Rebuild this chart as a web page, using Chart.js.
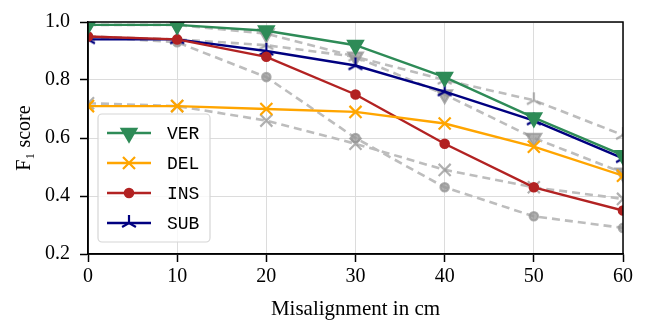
<!DOCTYPE html>
<html>
<head>
<meta charset="utf-8">
<script src="https://cdn.jsdelivr.net/npm/chart.js@4.4.1/dist/chart.umd.min.js"></script>
<style>
  html, body { margin: 0; padding: 0; background: #fff; }
  #wrap { width: 650px; height: 322px; position: relative; }
</style>
</head>
<body>
<div id="wrap"><canvas id="f1Chart"></canvas></div>
<script>
// Misalignment steps (cm) and F1 scores per error type
const misalignment = [0, 10, 20, 30, 40, 50, 60];
const yTicks = [0.2, 0.4, 0.6, 0.8, 1.0];

const verScores = [0.99, 0.99, 0.97, 0.92, 0.81, 0.67, 0.54];
const delScores = [0.71, 0.71, 0.70, 0.69, 0.65, 0.57, 0.47];
const insScores = [0.95, 0.94, 0.88, 0.75, 0.58, 0.43, 0.35];
const subScores = [0.94, 0.94, 0.90, 0.85, 0.76, 0.66, 0.53];

// grey dashed reference runs
const verRef = [0.99, 0.99, 0.96, 0.88, 0.75, 0.60, 0.48];
const delRef = [0.72, 0.71, 0.66, 0.58, 0.49, 0.43, 0.39];
const insRef = [0.95, 0.93, 0.81, 0.60, 0.43, 0.33, 0.29];
const subRef = [0.95, 0.94, 0.92, 0.88, 0.80, 0.73, 0.61];

const GREY_LINE = '#bdbdbd';
const GREY_MARK = 'rgba(150,150,150,0.75)';

// tri_up marker (matplotlib '2') as a small canvas
function triMarker(color, size) {
    const c = document.createElement('canvas');
    c.width = size * 2 + 4;
    c.height = size * 2 + 4;
    const g = c.getContext('2d');
    const cx = c.width / 2, cy = c.height / 2;
    g.strokeStyle = color;
    g.lineWidth = 2.2;
    g.beginPath();
    [90, 210, 330].forEach(a => {
        const r = a * Math.PI / 180;
        g.moveTo(cx, cy);
        g.lineTo(cx + size * Math.cos(r), cy - size * Math.sin(r));
    });
    g.stroke();
    return c;
}

const toPts = arr => arr.map((v, i) => ({ x: misalignment[i], y: v }));

function series(label, data, color, style, radius, opts = {}) {
    return Object.assign({
        label: label,
        data: toPts(data),
        borderColor: color,
        backgroundColor: color,
        pointBackgroundColor: color,
        pointBorderColor: color,
        pointStyle: style,
        pointRadius: radius,
        pointHoverRadius: radius,
        pointBorderWidth: 2.2,
        borderWidth: 2.4,
        tension: 0,
        fill: false
    }, opts);
}

const greyOpts = { borderColor: GREY_LINE, borderDash: [8, 5], borderWidth: 2.6 };

const datasets = [
    series('VER', verScores, '#2e8b57', 'triangle', 8.5, { pointRotation: 180 }),
    series('DEL', delScores, '#ffa500', 'crossRot', 8.5),
    series('INS', insScores, '#b22222', 'circle', 4.2),
    series('SUB', subScores, '#000080', triMarker('#000080', 8), 8),
    series('_ver', verRef, GREY_MARK, 'triangle', 8.5, Object.assign({ pointRotation: 180 }, greyOpts)),
    series('_del', delRef, GREY_MARK, 'crossRot', 8.5, greyOpts),
    series('_ins', insRef, GREY_MARK, 'circle', 4.2, greyOpts),
    series('_sub', subRef, GREY_MARK, triMarker(GREY_MARK, 8), 8, greyOpts)
];

// legend box inside the plot, plus the top/right frame
const framePlugin = {
    id: 'frameAndLegend',
    afterDatasetsDraw(chart) {
        const { ctx, chartArea: a } = chart;
        ctx.save();
        ctx.strokeStyle = '#000';
        ctx.lineWidth = 1.5;
        ctx.strokeRect(a.left, a.top, a.right - a.left, a.bottom - a.top);

        // legend frame
        const bx = 98, by = 114, bw = 112, bh = 128, r = 4;
        ctx.beginPath();
        ctx.moveTo(bx + r, by);
        ctx.arcTo(bx + bw, by, bx + bw, by + bh, r);
        ctx.arcTo(bx + bw, by + bh, bx, by + bh, r);
        ctx.arcTo(bx, by + bh, bx, by, r);
        ctx.arcTo(bx, by, bx + bw, by, r);
        ctx.closePath();
        ctx.fillStyle = 'rgba(255,255,255,0.8)';
        ctx.fill();
        ctx.strokeStyle = '#d6d6d6';
        ctx.lineWidth = 1.2;
        ctx.stroke();

        ctx.font = '18px "Liberation Mono", "DejaVu Sans Mono", monospace';
        ctx.textBaseline = 'middle';
        chart.data.datasets.slice(0, 4).forEach((ds, i) => {
            const y = 133 + i * 30;
            ctx.strokeStyle = ds.borderColor;
            ctx.fillStyle = ds.borderColor;
            ctx.lineWidth = 2.4;
            ctx.beginPath();
            ctx.moveTo(107, y);
            ctx.lineTo(151, y);
            ctx.stroke();
            const st = ds.pointStyle;
            if (st instanceof HTMLCanvasElement) {
                ctx.drawImage(st, 129 - st.width / 2, y - st.height / 2);
            } else {
                ctx.lineWidth = 2.2;
                Chart.helpers.drawPoint(ctx, {
                    pointStyle: st,
                    rotation: ds.pointRotation || 0,
                    radius: ds.pointRadius,
                    borderWidth: 2.2
                }, 129, y);
            }
            ctx.fillStyle = '#000';
            ctx.fillText(ds.label, 167, y + 1);
        });
        ctx.restore();
    }
};

const serif = '"Liberation Serif", "DejaVu Serif", serif';

new Chart(document.getElementById('f1Chart'), {
    type: 'line',
    data: { datasets: datasets },
    options: {
        responsive: true,
        maintainAspectRatio: false,
        animation: false,
        layout: { padding: { top: 13, right: 27, left: 0, bottom: 0 } },
        plugins: {
            legend: { display: false },
            tooltip: { enabled: false }
        },
        scales: {
            x: {
                type: 'linear',
                min: 0,
                max: 60,
                afterFit(scale) { scale.height = 68; },
                ticks: {
                    stepSize: 10,
                    color: '#000',
                    padding: 3,
                    font: { family: serif, size: 20 }
                },
                grid: { color: '#dcdcdc', lineWidth: 1, tickLength: 8, tickColor: '#000', tickWidth: 1.5 },
                border: { color: '#000', width: 1.5 },
                title: {
                    display: true,
                    text: 'Misalignment in cm',
                    color: '#000',
                    padding: { top: 4, bottom: 0 },
                    font: { family: serif, size: 21 }
                }
            },
            y: {
                min: 0.2,
                max: 1.0,
                afterFit(scale) { scale.width = 88; },
                afterBuildTicks(scale) { scale.ticks = yTicks.map(v => ({ value: v })); },
                ticks: {
                    color: '#000',
                    padding: 10,
                    font: { family: serif, size: 20 },
                    callback: v => v.toFixed(1)
                },
                grid: { color: '#dcdcdc', lineWidth: 1, tickLength: 8, tickColor: '#000', tickWidth: 1.5 },
                border: { color: '#000', width: 1.5 },
                title: {
                    display: true,
                    text: 'F\u2081 score',
                    color: '#000',
                    padding: { top: 13, bottom: 0 },
                    font: { family: serif, size: 20 }
                }
            }
        }
    },
    plugins: [framePlugin]
});
</script>
</body>
</html>
